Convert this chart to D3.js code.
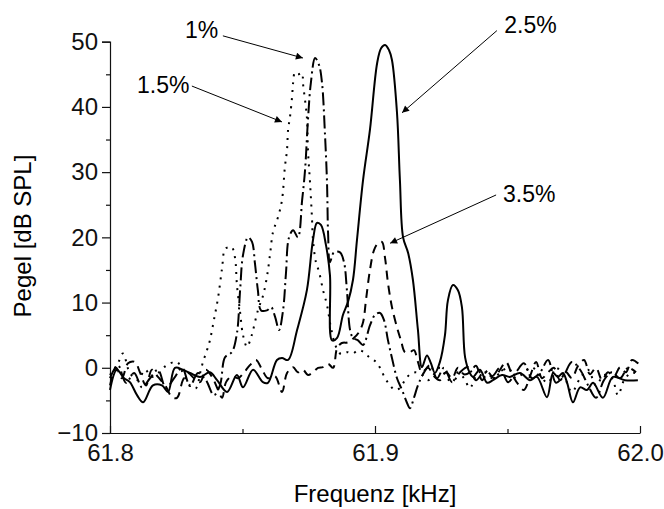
<!DOCTYPE html>
<html>
<head>
<meta charset="utf-8">
<script src="https://cdn.jsdelivr.net/npm/d3@7"></script>
<style>
  body { margin: 0; background: #fff; }
  svg { font-family: "Liberation Sans", Arial, sans-serif; }
  .axis text { font-size: 24px; fill: #111; font-family: "Liberation Sans", Arial, sans-serif; }
  .axis path, .axis line { stroke: #111; stroke-width: 1.2; }
  .trace { fill: none; stroke: #000; stroke-width: 2; }
</style>
</head>
<body>
<script>
// Pegel [dB SPL] vs Frequenz [kHz], one trace per concentration
var s1 = [[61.8000,-1.6],[61.8030,0.4],[61.8060,-2.3],[61.8091,-0.8],[61.8121,-3.0],[61.8151,-1.6],[61.8181,-0.3],[61.8211,-3.1],[61.8242,-1.6],[61.8272,0.0],[61.8302,-2.8],[61.8332,-0.8],[61.8362,-1.9],[61.8392,-4.2],[61.8415,-2.7],[61.8434,1.6],[61.8460,2.4],[61.8479,5.3],[61.8491,11.9],[61.8502,17.3],[61.8521,20.0],[61.8536,19.3],[61.8547,16.0],[61.8558,11.9],[61.8570,8.8],[61.8592,8.8],[61.8608,9.3],[61.8623,7.8],[61.8638,5.8],[61.8653,8.8],[61.8664,14.5],[61.8675,19.9],[61.8691,21.1],[61.8709,20.0],[61.8725,25.7],[61.8736,30.3],[61.8747,38.0],[61.8758,43.7],[61.8774,47.5],[61.8789,46.4],[61.8800,43.7],[61.8811,36.0],[61.8819,28.3],[61.8823,20.6],[61.8830,16.2],[61.8845,17.7],[61.8868,17.7],[61.8883,16.2],[61.8894,11.9],[61.8906,5.8],[61.8917,4.6],[61.8936,4.2],[61.8955,3.5],[61.8981,6.5],[61.9000,8.1],[61.9019,8.4],[61.9034,7.3],[61.9049,4.2],[61.9064,1.5],[61.9083,-1.6],[61.9102,-3.4],[61.9121,-5.4],[61.9132,-6.2],[61.9147,-4.6],[61.9162,-2.7],[61.9185,-0.7],[61.9208,0.4],[61.9234,-1.6],[61.9260,0.0],[61.9291,-2.2],[61.9321,-0.7],[61.9351,0.1],[61.9381,-1.9],[61.9411,-0.7],[61.9442,-1.3],[61.9472,0.0],[61.9502,-2.2],[61.9532,-0.7],[61.9562,0.7],[61.9592,-1.6],[61.9623,-0.7],[61.9653,1.2],[61.9683,-2.3],[61.9713,-1.1],[61.9743,0.9],[61.9774,-0.3],[61.9804,-2.7],[61.9834,-4.6],[61.9864,-1.9],[61.9894,-0.7],[61.9925,-1.6],[61.9955,0.0],[61.9985,-0.7]];

var s15 = [[61.8000,-1.1],[61.8030,0.7],[61.8049,2.2],[61.8075,-0.8],[61.8106,-1.9],[61.8132,-0.3],[61.8158,-1.4],[61.8181,-0.8],[61.8215,0.4],[61.8253,0.9],[61.8275,-0.8],[61.8302,-2.7],[61.8325,-3.1],[61.8340,-0.8],[61.8351,0.9],[61.8366,2.7],[61.8377,4.2],[61.8392,7.3],[61.8408,10.8],[61.8423,15.3],[61.8434,18.2],[61.8449,18.5],[61.8460,18.5],[61.8472,16.8],[61.8479,12.7],[61.8491,8.5],[61.8502,5.0],[61.8517,3.2],[61.8528,4.1],[61.8540,5.8],[61.8558,8.8],[61.8577,11.0],[61.8592,13.9],[61.8604,17.4],[61.8615,20.8],[61.8634,23.1],[61.8649,25.7],[61.8660,30.8],[61.8668,33.4],[61.8672,36.5],[61.8679,38.4],[61.8687,41.5],[61.8691,43.7],[61.8698,45.3],[61.8709,45.0],[61.8725,45.2],[61.8728,43.7],[61.8743,38.4],[61.8747,33.4],[61.8755,28.3],[61.8762,23.1],[61.8766,19.6],[61.8777,16.2],[61.8789,14.7],[61.8804,11.9],[61.8819,9.6],[61.8834,6.1],[61.8853,3.2],[61.8872,2.1],[61.8894,2.4],[61.8917,2.2],[61.8936,2.7],[61.8958,2.4],[61.8981,1.5],[61.9004,0.9],[61.9019,0.0],[61.9038,-1.6],[61.9057,-2.7],[61.9075,-3.4],[61.9094,-3.1],[61.9113,-1.9],[61.9132,-1.0],[61.9155,-0.7],[61.9177,-1.1],[61.9200,-1.9],[61.9223,-1.0],[61.9245,0.0],[61.9268,-1.3],[61.9291,-2.3],[61.9313,-0.7],[61.9336,-1.6],[61.9358,-3.1],[61.9381,-1.3],[61.9411,-0.3],[61.9442,-1.6],[61.9472,-0.8],[61.9502,0.0],[61.9532,-1.6],[61.9562,-0.7],[61.9592,0.1],[61.9623,-1.3],[61.9653,-2.3],[61.9683,0.0],[61.9713,-1.3],[61.9743,-3.7],[61.9774,-1.6],[61.9804,-0.3],[61.9834,-2.7],[61.9864,-1.1],[61.9894,-1.6],[61.9917,-4.2],[61.9940,-1.9],[61.9970,-0.7],[62.0000,-1.3]];

var s25 = [[61.8000,-3.4],[61.8026,-0.3],[61.8053,-1.6],[61.8075,-2.2],[61.8102,-4.2],[61.8125,-5.3],[61.8162,-2.7],[61.8196,-2.7],[61.8219,-3.7],[61.8245,0.0],[61.8275,-0.3],[61.8302,-0.8],[61.8340,-1.4],[61.8377,-0.7],[61.8404,-1.9],[61.8442,-3.7],[61.8479,-1.1],[61.8502,-3.0],[61.8540,-0.3],[61.8577,-2.2],[61.8596,-2.3],[61.8630,1.2],[61.8649,1.5],[61.8672,1.2],[61.8706,5.8],[61.8743,11.9],[61.8766,19.6],[61.8781,22.2],[61.8796,21.9],[61.8815,18.8],[61.8830,14.2],[61.8838,4.2],[61.8857,4.6],[61.8879,8.1],[61.8898,10.1],[61.8917,13.5],[61.8932,19.6],[61.8955,28.8],[61.8981,36.5],[61.9008,46.7],[61.9023,49.0],[61.9038,49.5],[61.9053,48.7],[61.9064,47.2],[61.9083,39.1],[61.9094,28.8],[61.9106,20.0],[61.9125,17.6],[61.9143,13.5],[61.9162,5.8],[61.9177,0.1],[61.9196,1.9],[61.9211,0.7],[61.9226,-0.8],[61.9245,0.9],[61.9264,5.0],[61.9275,10.3],[61.9294,12.7],[61.9313,11.9],[61.9328,9.3],[61.9340,1.6],[61.9358,-0.8],[61.9370,-1.4],[61.9396,-0.3],[61.9423,-2.3],[61.9445,-1.9],[61.9479,-1.1],[61.9509,-1.4],[61.9547,-0.8],[61.9585,-1.9],[61.9611,-1.4],[61.9649,-4.5],[61.9672,-0.8],[61.9690,-1.4],[61.9709,-0.8],[61.9725,-2.3],[61.9747,-5.3],[61.9774,-3.0],[61.9800,-3.4],[61.9823,-2.3],[61.9860,-4.6],[61.9898,-1.4],[61.9943,-1.9],[61.9992,-1.9]];

var s35 = [[61.8000,-2.7],[61.8023,0.0],[61.8045,-1.6],[61.8068,0.7],[61.8094,0.9],[61.8113,-0.7],[61.8136,-2.7],[61.8158,-0.3],[61.8181,-1.4],[61.8208,-2.7],[61.8234,-4.5],[61.8253,-4.6],[61.8275,-1.9],[61.8294,-0.8],[61.8317,-1.6],[61.8340,-2.2],[61.8362,-0.3],[61.8385,-1.4],[61.8408,-3.4],[61.8423,-4.6],[61.8438,-2.2],[61.8460,-1.3],[61.8483,-1.6],[61.8506,-0.7],[61.8528,0.4],[61.8551,1.2],[61.8574,-0.3],[61.8596,-1.6],[61.8623,-1.3],[61.8649,-3.7],[61.8668,-0.8],[61.8691,0.1],[61.8709,-0.7],[61.8728,-0.3],[61.8747,-1.1],[61.8766,-0.7],[61.8785,0.0],[61.8804,0.1],[61.8823,0.6],[61.8842,0.0],[61.8857,3.0],[61.8875,3.8],[61.8898,3.9],[61.8921,4.6],[61.8940,5.5],[61.8955,7.0],[61.8966,10.4],[61.8981,15.0],[61.8996,18.0],[61.9011,19.1],[61.9026,19.3],[61.9038,16.8],[61.9049,13.0],[61.9064,9.3],[61.9083,6.2],[61.9098,4.2],[61.9113,2.4],[61.9132,2.4],[61.9147,2.7],[61.9162,0.9],[61.9177,-0.7],[61.9200,0.0],[61.9223,-1.3],[61.9245,-1.9],[61.9268,-0.7],[61.9291,-1.6],[61.9313,0.0],[61.9336,-1.0],[61.9358,-0.7],[61.9381,0.3],[61.9404,-1.9],[61.9426,-0.7],[61.9449,-1.6],[61.9472,-0.3],[61.9494,0.9],[61.9517,-1.0],[61.9540,-2.5],[61.9562,-3.4],[61.9585,-1.3],[61.9608,0.9],[61.9630,-1.6],[61.9653,-0.7],[61.9675,0.0],[61.9698,-1.9],[61.9721,-0.7],[61.9743,-1.6],[61.9766,0.3],[61.9789,1.2],[61.9811,-1.0],[61.9834,0.0],[61.9857,-1.9],[61.9879,-0.7],[61.9902,-1.3],[61.9925,0.1],[61.9947,-0.7],[61.9970,1.2],[62.0000,0.4]];

var xTicks = [61.8, 61.9, 62.0];
var xMinor = [61.85, 61.95];
var yTicks = [-10, 0, 10, 20, 30, 40, 50];
var yMinor = [-5, 5, 15, 25, 35, 45];

// annotation labels: text anchor point and arrow from/to, in data units
var noteLabels = ["1%", "1.5%", "2.5%", "3.5%"];
var noteText = [[61.8283, 50.6], [61.8102, 42.1], [61.9488, 51.3], [61.9483, 25.4]];
var noteFrom = [[61.8426, 50.9], [61.8309, 43.2], [61.9460, 51.7], [61.9457, 26.5]];
var noteTo = [[61.8728, 47.5], [61.8649, 37.7], [61.9102, 39.1], [61.9057, 19.1]];

var width = 664,
    height = 509;

var svg = d3.select("body")
    .append("svg")
    .attr("width", width)
    .attr("height", height);

var x = d3.scaleLinear()
    .domain([61.8, 62.0])
    .range([110, 640]);

var y = d3.scaleLinear()
    .domain([-10, 50])
    .range([433, 41.7]);

svg.append("defs").append("marker")
    .attr("id", "head")
    .attr("viewBox", "0 0 10 10")
    .attr("refX", 10)
    .attr("refY", 5)
    .attr("markerWidth", 9)
    .attr("markerHeight", 7)
    .attr("markerUnits", "userSpaceOnUse")
    .attr("orient", "auto")
    .append("path")
    .attr("d", "M0,0L10,5L0,10z")
    .attr("fill", "#000");

// axes
svg.append("g")
    .attr("class", "axis")
    .attr("transform", "translate(110,0)")
    .call(d3.axisLeft(y).tickValues(yTicks).tickSize(8).tickPadding(4).tickFormat(d3.format("d")));

svg.append("g")
    .attr("class", "axis")
    .attr("transform", "translate(110,0)")
    .call(d3.axisLeft(y).tickValues(yMinor).tickSize(4).tickFormat(""))
    .select(".domain").remove();

svg.append("g")
    .attr("class", "axis")
    .attr("transform", "translate(0,433)")
    .call(d3.axisBottom(x).tickValues(xTicks).tickSizeInner(-7).tickSizeOuter(0).tickPadding(11).tickFormat(d3.format(".1f")));

svg.append("g")
    .attr("class", "axis")
    .attr("transform", "translate(0,433)")
    .call(d3.axisBottom(x).tickValues(xMinor).tickSizeInner(-4).tickSizeOuter(0).tickFormat(""))
    .select(".domain").remove();

// traces
var line = d3.line()
    .x(function(d){ return x(d[0]); })
    .y(function(d){ return y(d[1]); })
    .curve(d3.curveCatmullRom.alpha(0.5));

var series = [
    {data: s25, dash: null},
    {data: s35, dash: "9,6"},
    {data: s15, dash: "2,6"},
    {data: s1, dash: "13,4,2,4"}
];

svg.selectAll(".trace")
    .data(series)
    .enter()
    .append("path")
    .attr("class", "trace")
    .attr("stroke-dasharray", function(d){ return d.dash; })
    .attr("d", function(d){ return line(d.data); });

// annotations
noteLabels.forEach(function(t, i){
    svg.append("text")
        .attr("x", x(noteText[i][0]))
        .attr("y", y(noteText[i][1]))
        .attr("font-size", 23)
        .text(t);
    svg.append("line")
        .attr("x1", x(noteFrom[i][0]))
        .attr("y1", y(noteFrom[i][1]))
        .attr("x2", x(noteTo[i][0]))
        .attr("y2", y(noteTo[i][1]))
        .attr("stroke", "#000")
        .attr("stroke-width", 1)
        .attr("marker-end", "url(#head)");
});

// axis titles
svg.append("text")
    .attr("transform", "translate(31,236) rotate(-90)")
    .attr("text-anchor", "middle")
    .attr("font-size", 24)
    .text("Pegel [dB SPL]");

svg.append("text")
    .attr("x", 375)
    .attr("y", 502)
    .attr("text-anchor", "middle")
    .attr("font-size", 24)
    .text("Frequenz [kHz]");
</script>
</body>
</html>
